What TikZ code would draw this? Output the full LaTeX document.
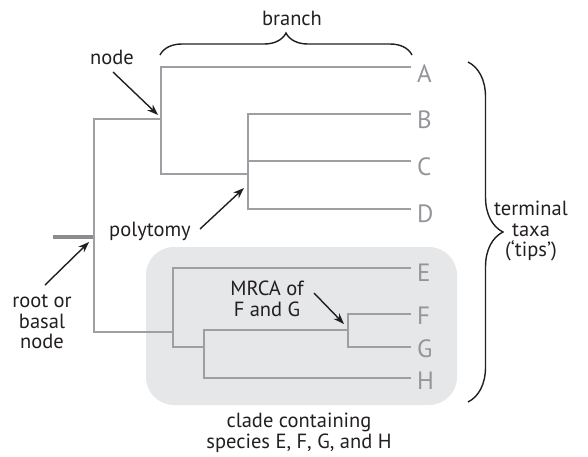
\documentclass[tikz,border=0pt]{standalone}
\usepackage{fontspec}
\setmainfont{PT Sans}
\usetikzlibrary{arrows.meta,decorations.pathreplacing}
\definecolor{treegray}{HTML}{9D9FA2}
\definecolor{stubgray}{HTML}{8A8C8E}
\definecolor{tipgray}{HTML}{939598}
\definecolor{boxgray}{HTML}{E6E7E8}
\definecolor{ink}{HTML}{231F20}
\begin{document}
\begin{tikzpicture}[x=1pt,y=-1pt,
  tree/.style={draw=treegray,line width=1.7pt,line join=miter},
  stub/.style={draw=stubgray,line width=3.5pt},
  ann/.style={font=\fontsize{20.5}{20.5}\selectfont,text=ink,align=center,inner sep=0pt},
  tip/.style={font=\fontsize{25}{25}\selectfont,text=tipgray,anchor=base west,inner sep=0pt},
  pointer/.style={draw=ink,line width=1.4pt,-{Stealth[length=11pt,width=8pt]}},
  bracepath/.style={draw=ink,line width=1.4pt,decorate}]
\useasboundingbox (0,0) rectangle (588,456);
% clade box
\fill[boxgray,rounded corners=28pt] (146,247) rectangle (457,405);
% tip ends
\coordinate (tA) at (411,67);
\coordinate (tB) at (411,114);
\coordinate (tC) at (411,161);
\coordinate (tD) at (411,209);
\coordinate (tE) at (411,268);
\coordinate (tF) at (411,314);
\coordinate (tG) at (411,347);
\coordinate (tH) at (411,378);
% tree
\draw[stub] (53,237) -- (94,237);
\draw[tree] (161,119) -| (94,332) -- (173,332);
\draw[tree] (tA) -| (161,174) -- (248,174);
\draw[tree] (tB) -| (248,209) -- (tD);
\draw[tree] (248,161) -- (tC);
\draw[tree] (tE) -| (173,347) -- (204,347);
\draw[tree] (tH) -| (204,330) -- (348,330);
\draw[tree] (tF) -| (348,347) -- (tG);
% tip labels
\node[tip] (lA) at (417,82) {A};
\node[tip] (lB) at (417,128) {B};
\node[tip] (lC) at (417,175) {C};
\node[tip] (lD) at (417,222) {D};
\node[tip] (lE) at (417,281) {E};
\node[tip] (lF) at (417,324) {F};
\node[tip] (lG) at (417,357) {G};
\node[tip] (lH) at (417,389) {H};
% braces
\draw[bracepath,decoration={brace,amplitude=22pt}] (160,55) -- (412,55);
\draw[bracepath,decoration={brace,amplitude=35pt}] (468,62) -- (468,402);
% annotations
\node[ann] (branch) at (292,18) {branch};
\node[ann] (nodelbl) at (112,57) {node};
\node[ann] (poly) at (150,231) {polytomy};
\node[ann] (rootlbl) at (42,322) {root or\\basal\\node};
\node[ann] (mrca) at (267,299) {MRCA of\\F and G};
\node[ann] (tips) at (531,231) {terminal\\taxa\\(‘tips’)};
\node[ann] (clade) at (299,433) {clade containing\\species E, F, G, and H};
% pointers
\coordinate (a1s) at (113,72);  \coordinate (a1e) at (158,115);
\coordinate (a2s) at (200,229); \coordinate (a2e) at (244,188);
\coordinate (a3s) at (45,285);  \coordinate (a3e) at (89,242);
\coordinate (a4s) at (314,293); \coordinate (a4e) at (344,324);
\draw[pointer] (a1s) -- (a1e);
\draw[pointer] (a2s) -- (a2e);
\draw[pointer] (a3s) -- (a3e);
\draw[pointer] (a4s) -- (a4e);
\end{tikzpicture}
\end{document}
